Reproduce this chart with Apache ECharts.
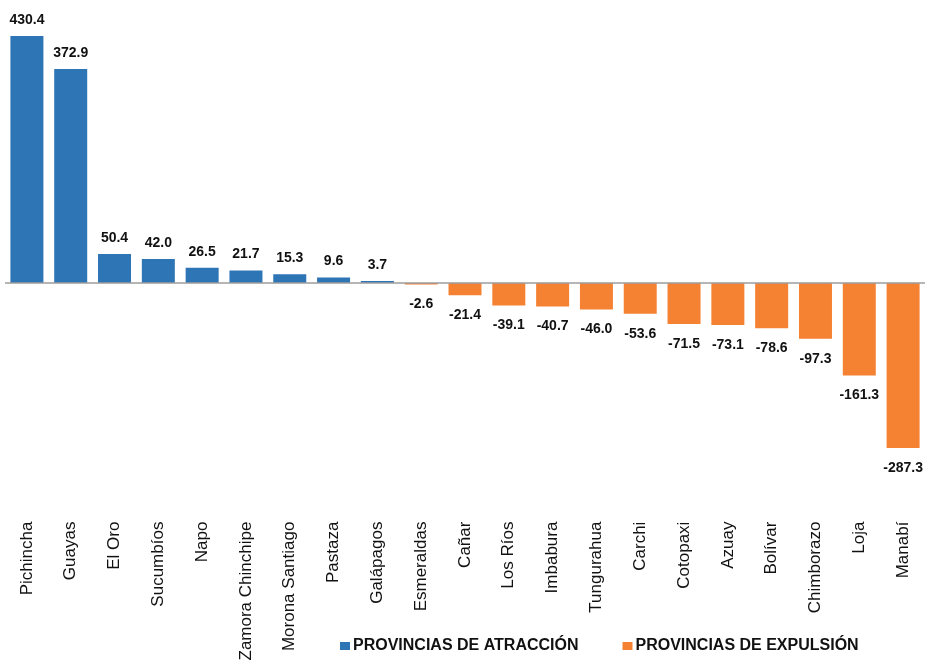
<!DOCTYPE html>
<html>
<head>
<meta charset="utf-8">
<script src="https://cdn.jsdelivr.net/npm/echarts@6/dist/echarts.min.js"></script>
<style>
  html, body { margin: 0; padding: 0; background: #ffffff; }
  #chart { width: 925px; height: 665px; }
</style>
</head>
<body>
<div id="chart"></div>
<script>
// Provinces ordered from highest net migration to lowest
const provinces = [
  'Pichincha', 'Guayas', 'El Oro', 'Sucumbíos', 'Napo', 'Zamora Chinchipe',
  'Morona Santiago', 'Pastaza', 'Galápagos', 'Esmeraldas', 'Cañar', 'Los Ríos',
  'Imbabura', 'Tungurahua', 'Carchi', 'Cotopaxi', 'Azuay', 'Bolívar',
  'Chimborazo', 'Loja', 'Manabí'
];
const netValues = [
  430.4, 372.9, 50.4, 42.0, 26.5, 21.7, 15.3, 9.6, 3.7, -2.6, -21.4, -39.1,
  -40.7, -46.0, -53.6, -71.5, -73.1, -78.6, -97.3, -161.3, -287.3
];
const seriesNames = ['PROVINCIAS DE ATRACCIÓN', 'PROVINCIAS DE EXPULSIÓN'];

// Positive balances go to the attraction series, negative ones to expulsion
const attraction = netValues.map(v => (v > 0 ? v : '-'));
const expulsion = netValues.map(v => (v < 0 ? v : '-'));

const FONT = 'Liberation Sans, Arial, sans-serif';

const labelStyle = {
  show: true,
  fontFamily: FONT,
  fontWeight: 'bold',
  fontSize: 14,
  color: '#111111',
  formatter: p => Number(p.value).toFixed(1)
};

const chart = echarts.init(document.getElementById('chart'));
chart.setOption({
  animation: false,
  backgroundColor: '#ffffff',
  grid: { left: 5, right: 0, top: 30.5, bottom: 152.4, containLabel: false },
  legend: {
    left: 335,
    top: 633,
    itemWidth: 10,
    itemHeight: 8,
    itemGap: 44,
    icon: 'rect',
    textStyle: {
      fontFamily: FONT,
      fontWeight: 'bold',
      fontSize: 16,
      color: '#111111',
      padding: [0, 0, 0, -2]
    },
    data: seriesNames
  },
  xAxis: {
    type: 'category',
    data: provinces,
    axisLine: { show: false, onZero: false },
    axisTick: { show: false },
    axisLabel: {
      rotate: 90,
      interval: 0,
      margin: 9,
      fontFamily: FONT,
      fontSize: 17,
      color: '#111111'
    }
  },
  yAxis: {
    type: 'value',
    min: -400,
    max: 440,
    show: false,
    splitLine: { show: false }
  },
  series: [
    {
      name: seriesNames[0],
      type: 'bar',
      data: attraction,
      barWidth: 33,
      barGap: '-100%',
      itemStyle: { color: '#2E75B6' },
      label: Object.assign({ position: 'top', distance: 9 }, labelStyle),
      markLine: {
        silent: true,
        symbol: 'none',
        label: { show: false },
        lineStyle: { color: '#9c9c9c', width: 1.7, type: 'solid' },
        data: [{ yAxis: 0 }]
      },
      z: 2
    },
    {
      name: seriesNames[1],
      type: 'bar',
      data: expulsion,
      barWidth: 33,
      itemStyle: { color: '#F58233' },
      label: Object.assign({ position: 'bottom', distance: 13 }, labelStyle),
      z: 2
    }
  ]
});
</script>
</body>
</html>
